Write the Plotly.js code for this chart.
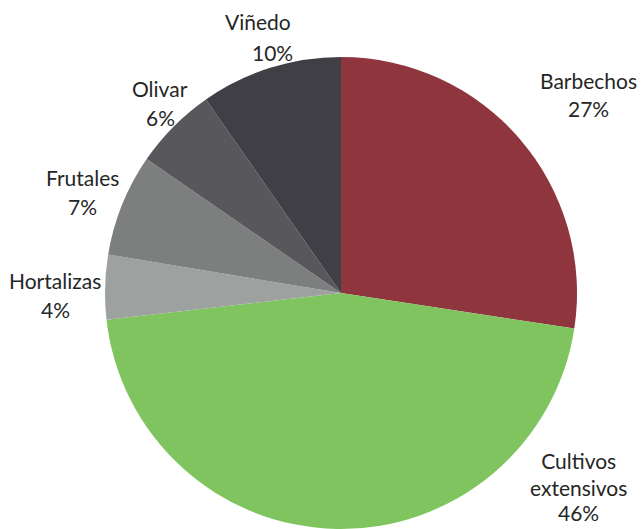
<!DOCTYPE html>
<html>
<head>
<meta charset="utf-8">
<script src="https://cdn.plot.ly/plotly-3.0.1.min.js"></script>
<style>html,body{margin:0;padding:0;background:#fff;}#chart{width:642px;height:529px;}</style>
</head>
<body>
<div id="chart"></div>
<script>
// Data (shares in %; labels show rounded values)
const labels = ["Barbechos", "Cultivos extensivos", "Hortalizas", "Frutales", "Olivar", "Viñedo"];
const nameLines = ["Barbechos", "Cultivos<br>extensivos", "Hortalizas", "Frutales", "Olivar", "Viñedo"];
const values = [27.4, 45.8, 4.4, 7.0, 5.7, 9.7];
const colors = ["#8E353D", "#80C45F", "#9DA2A1", "#7C7F7E", "#58575C", "#403F45"];

// Label layout (pixel positions of label centres: name line, percent line)
const W = 642, H = 529;
const labelPos = [
  {x: 588, y: 80,  px: 588, py: 109},
  {x: 578, y: 474, px: 578, py: 512},
  {x: 55,  y: 280, px: 55,  py: 309},
  {x: 83,  y: 177, px: 83,  py: 207},
  {x: 160, y: 88,  px: 161, py: 117},
  {x: 258, y: 22,  px: 272, py: 52}
];

const font = {family: "Lato, 'Open Sans', sans-serif", size: 21, color: "#262626"};
const annotations = [];
labels.forEach((l, i) => {
  const p = labelPos[i];
  annotations.push({xref: "paper", yref: "paper", x: p.x / W, y: 1 - p.y / H,
    text: nameLines[i], showarrow: false, font: font, xanchor: "center", yanchor: "middle", align: "center"});
  annotations.push({xref: "paper", yref: "paper", x: p.px / W, y: 1 - p.py / H,
    text: Math.round(values[i]) + "%", showarrow: false, font: font, xanchor: "center", yanchor: "middle"});
});

const cx = 341, cy = 293, r = 236;
const trace = {
  type: "pie",
  labels: labels,
  values: values,
  sort: false,
  direction: "clockwise",
  rotation: 0,
  textinfo: "none",
  hoverinfo: "label+percent",
  marker: {colors: colors, line: {color: "#ffffff", width: 0}},
  domain: {x: [(cx - r) / W, (cx + r) / W], y: [1 - (cy + r) / H, 1 - (cy - r) / H]},
  showlegend: false
};

Plotly.newPlot("chart", [trace], {
  width: W, height: H,
  margin: {l: 0, r: 0, t: 0, b: 0},
  paper_bgcolor: "#ffffff",
  showlegend: false,
  annotations: annotations
}, {displayModeBar: false, staticPlot: true});
</script>
</body>
</html>
